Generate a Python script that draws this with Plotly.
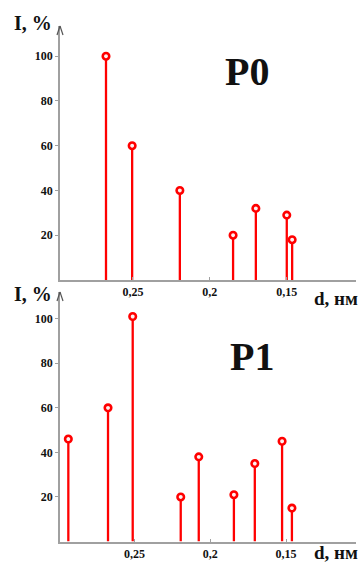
import plotly.graph_objects as go

# ---- data ----
d_p0 = [0.2675, 0.2505, 0.2195, 0.1849, 0.1701, 0.1500, 0.1465]
i_p0 = [100, 60, 40, 20, 32, 29, 18]

d_p1 = [0.2937, 0.2675, 0.2512, 0.2195, 0.2076, 0.1844, 0.1706, 0.1526, 0.1461]
i_p1 = [46, 60, 101, 20, 38, 21, 35, 45, 15]

x_tick_vals = [0.25, 0.2, 0.15]
x_tick_text = ["0,25", "0,2", "0,15"]
y_tick_vals = [20, 40, 60, 80, 100]
y_tick_text = ["20", "40", "60", "80", "100"]

W, H = 361, 563
RED = "#ff0000"
AX = "#a0a0a0"
FONT = "Liberation Serif"


def fx(p):
    return p / W


def fy(p):
    return 1 - p / H


def stems(xs, ys):
    sx, sy = [], []
    for x, y in zip(xs, ys):
        sx += [x, x, None]
        sy += [0, y, None]
    return sx, sy


fig = go.Figure()
for d, v, xa, ya in [(d_p0, i_p0, "x", "y"), (d_p1, i_p1, "x2", "y2")]:
    sx, sy = stems(d, v)
    fig.add_trace(go.Scatter(x=sx, y=sy, mode="lines", xaxis=xa, yaxis=ya,
                             line=dict(color=RED, width=2.3), hoverinfo="skip",
                             showlegend=False))
    fig.add_trace(go.Scatter(x=d, y=v, mode="markers", xaxis=xa, yaxis=ya,
                             cliponaxis=False,
                             marker=dict(symbol="circle", size=6.5, color="#fff0f0",
                                         line=dict(color=RED, width=2.6)),
                             showlegend=False))

tickfont = dict(family=FONT, size=12, color="#111", weight="bold")
xcommon = dict(showgrid=False, zeroline=False, showline=True, linecolor=AX, linewidth=1.5,
               ticks="inside", ticklen=3, tickcolor=AX, tickwidth=1,
               tickvals=x_tick_vals, ticktext=x_tick_text, tickfont=tickfont,
               domain=[fx(60), fx(356)])
ycommon = dict(showgrid=False, zeroline=False, showline=True, linecolor=AX, linewidth=1.8,
               ticks="outside", ticklen=3, tickcolor=AX, tickwidth=1,
               tickvals=y_tick_vals, ticktext=y_tick_text, tickfont=tickfont)

fig.update_layout(
    width=W, height=H, margin=dict(l=0, r=0, t=0, b=0),
    paper_bgcolor="white", plot_bgcolor="white",
    xaxis=dict(**xcommon, range=[0.2974, 0.105], anchor="y"),
    yaxis=dict(**ycommon, range=[0, 113.5], domain=[fy(280), fy(26)], anchor="x"),
    xaxis2=dict(**xcommon, range=[0.2992, 0.1038], anchor="y2"),
    yaxis2=dict(**ycommon, range=[0, 112], domain=[fy(541.5), fy(292)], anchor="x2"),
)

labfont = dict(family=FONT, size=20, color="#111", weight="bold")
dfont = dict(family=FONT, size=19, color="#111", weight="bold")
bigfont = dict(family=FONT, size=40, color="#111", weight="bold")
ann = [
    dict(text="I, %", x=fx(12), y=fy(23), xanchor="left", yanchor="middle", font=labfont),
    dict(text="I, %", x=fx(12), y=fy(294), xanchor="left", yanchor="middle", font=labfont),
    dict(text="d, нм", x=fx(312), y=fy(298), xanchor="left", yanchor="middle", font=dfont),
    dict(text="d, нм", x=fx(312), y=fy(552), xanchor="left", yanchor="middle", font=dfont),
    dict(text="P0", x=fx(247), y=fy(71), xanchor="center", yanchor="middle", font=bigfont),
    dict(text="P1", x=fx(252), y=fy(356), xanchor="center", yanchor="middle", font=bigfont),
]
for a in ann:
    a.update(xref="paper", yref="paper", showarrow=False)
fig.update_layout(annotations=ann)

shapes = []
for tip in (26, 292):
    for side in (-3, 3):
        shapes.append(dict(type="line", xref="paper", yref="paper",
                           x0=fx(60), y0=fy(tip), x1=fx(60 + side), y1=fy(tip + 9),
                           line=dict(color="#555", width=1.2)))
fig.update_layout(shapes=shapes)

fig.write_html("out.html")
